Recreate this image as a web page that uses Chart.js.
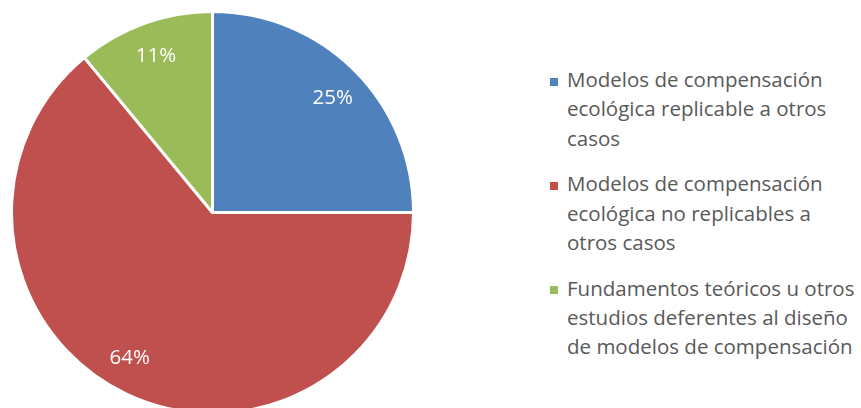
<!DOCTYPE html>
<html>
<head>
<meta charset="utf-8">
<script src="https://cdn.jsdelivr.net/npm/chart.js@4/dist/chart.umd.min.js"></script>
<style>
  html, body { margin: 0; padding: 0; background: #fff; }
  body { width: 861px; height: 408px; overflow: hidden; position: relative; }
  #wrap { position: absolute; left: 10px; top: 10px; width: 405px; height: 405px; }
  #legend { position: absolute; left: 550px; top: 65px; font-family: "Open Sans", sans-serif; font-size: 20.5px; color: #595959; }
  .item { position: relative; padding-left: 17px; line-height: 29.3px; margin-bottom: 16.5px; white-space: nowrap; }
  .box { position: absolute; left: 0; top: 12.5px; width: 8px; height: 8px; }
</style>
</head>
<body>
<div id="wrap"><canvas id="myChart"></canvas></div>
<div id="legend"></div>
<script>
// chart data
let categories = [
    ['Modelos de compensación', 'ecológica replicable a otros', 'casos'],
    ['Modelos de compensación', 'ecológica no replicables a', 'otros casos'],
    ['Fundamentos teóricos u otros', 'estudios deferentes al diseño', 'de modelos de compensación']
]
let values = [25, 64, 11]
let valueLabels = ['25%', '64%', '11%']
let colors = ['#4F81BD', '#C0504D', '#9BBB59']

// percent labels inside the slices (small angle nudge like excel's best fit)
let labelNudge = [0.02, 0.08, 0]
let sliceLabels = {
    id: 'sliceLabels',
    afterDatasetsDraw(chart) {
        let ctx = chart.ctx
        let meta = chart.getDatasetMeta(0)
        ctx.save()
        ctx.fillStyle = '#ffffff'
        ctx.font = '20.5px "Open Sans", sans-serif'
        ctx.textAlign = 'center'
        ctx.textBaseline = 'middle'
        meta.data.forEach((arc, i) => {
            let p = arc.getProps(['x', 'y', 'startAngle', 'endAngle', 'outerRadius'], true)
            let mid = (p.startAngle + p.endAngle) / 2 + labelNudge[i]
            let r = p.outerRadius * 0.83
            ctx.fillText(valueLabels[i], p.x + Math.cos(mid) * r, p.y + Math.sin(mid) * r + 1)
        })
        ctx.restore()
    }
}

let ctx = document.getElementById('myChart').getContext('2d')
let myChart = new Chart(ctx, {
    type: 'pie',
    data: {
        labels: categories,
        datasets: [{
            data: values,
            backgroundColor: colors,
            borderColor: '#ffffff',
            borderWidth: 3
        }]
    },
    options: {
        responsive: true,
        maintainAspectRatio: false,
        animation: false,
        layout: { padding: 0 },
        plugins: {
            legend: { display: false },
            tooltip: { enabled: false }
        }
    },
    plugins: [sliceLabels]
})

// html legend so the long names can wrap
let legend = document.getElementById('legend')
myChart.data.labels.forEach((lines, i) => {
    let item = document.createElement('div')
    item.className = 'item'
    let box = document.createElement('span')
    box.className = 'box'
    box.style.background = colors[i]
    item.appendChild(box)
    lines.forEach((line, j) => {
        if (j > 0) item.appendChild(document.createElement('br'))
        item.appendChild(document.createTextNode(line))
    })
    legend.appendChild(item)
})
</script>
</body>
</html>
